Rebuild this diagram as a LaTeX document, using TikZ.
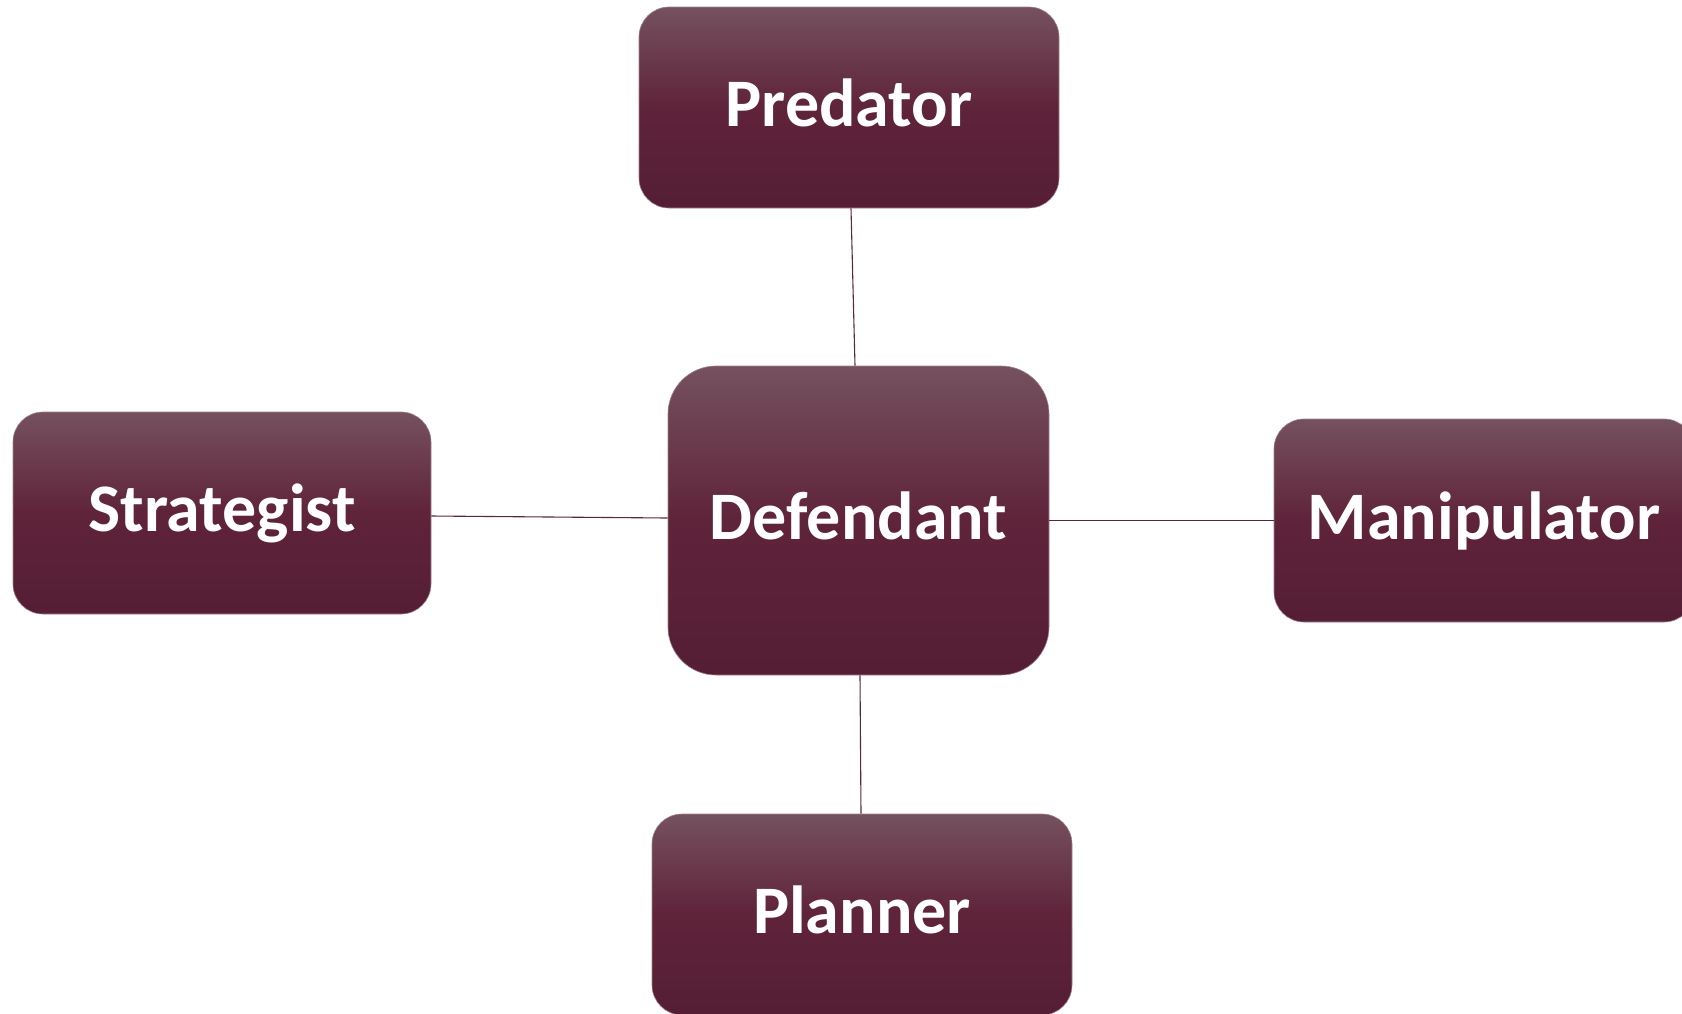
\documentclass[tikz,border=0pt]{standalone}
\usepackage{fontspec}
\setmainfont{Carlito}
\definecolor{gtop}{RGB}{117,81,95}
\definecolor{gmid}{RGB}{95,35,58}
\definecolor{gbot}{RGB}{85,30,52}
\definecolor{edgec}{RGB}{160,130,140}
\definecolor{linec}{RGB}{90,40,60}
\begin{document}
\begin{tikzpicture}[x=1pt,y=-1pt,
  rolebox/.style={rectangle, rounded corners=30pt, draw=edgec, line width=0.6pt,
    top color=gtop, bottom color=gbot, middle color=gmid,
    text=white, font=\fontsize{68}{82}\selectfont\bfseries,
    text height=37pt, text depth=0pt,
    inner sep=0pt, minimum width=420pt, minimum height=201pt},
  link/.style={draw=linec, line width=1.1pt}]
\useasboundingbox (0,0) rectangle (1682,1013);
\begin{scope}
\clip (0,0) rectangle (1682,1013);
\node[rolebox] (pred) at (849,107.5) {Predator};
\node[rolebox, minimum width=418pt, minimum height=202pt] (strat) at (222,513) {Strategist};
\node[rolebox, rounded corners=48pt, minimum width=381pt, minimum height=309pt] (def) at (858.5,520.5) {Defendant};
\node[rolebox, minimum height=203pt] (manip) at (1484,520.5) {Manipulator};
\node[rolebox] (plan) at (862,914.5) {Planner};
\draw[link] ([xshift=2pt]pred.south) -- ([xshift=-3.5pt]def.north);
\draw[link] ([yshift=-3pt]strat.east) -- ([yshift=2.5pt]def.west);
\draw[link] (def.east) -- (manip.west);
\draw[link] ([xshift=1.5pt]def.south) -- ([xshift=-1pt]plan.north);
\end{scope}
\end{tikzpicture}
\end{document}
